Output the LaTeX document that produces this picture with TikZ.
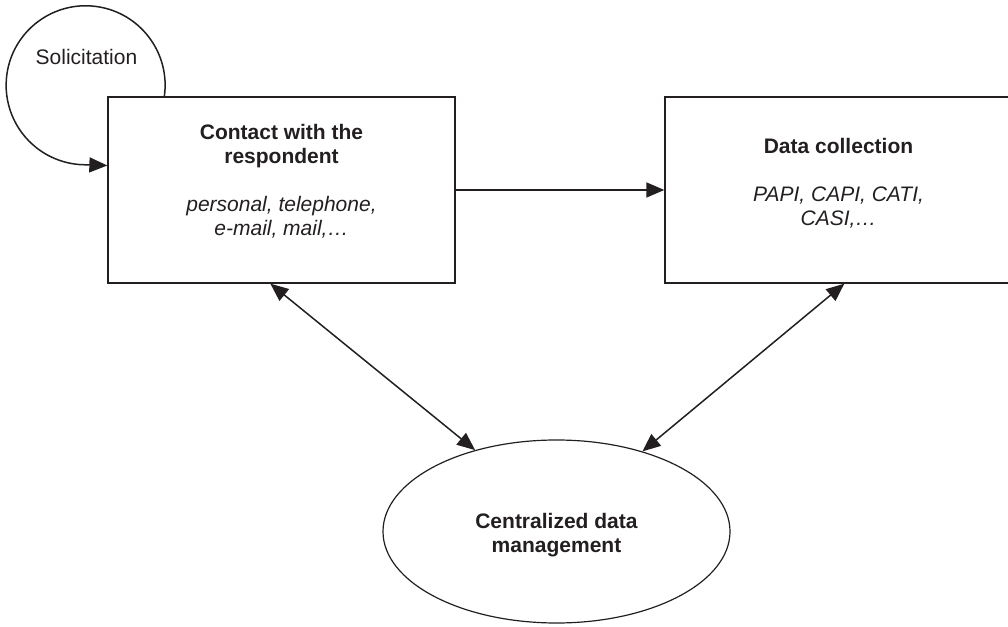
\documentclass[tikz,border=0pt]{standalone}
\usepackage{fontspec}
\setmainfont{Liberation Sans}
\usetikzlibrary{shapes.geometric,arrows.meta}
\definecolor{ink}{HTML}{231F20}
\begin{document}
\begin{tikzpicture}[x=1pt,y=1pt,
  box/.style={draw=ink,line width=1.3pt,minimum width=347pt,minimum height=186pt,inner sep=0pt},
  oval/.style={draw=ink,line width=1.2pt,ellipse,minimum width=347pt,minimum height=183pt,inner sep=0pt},
  txt/.style={text=ink,align=center,inner sep=0pt,font=\fontsize{21}{24}\selectfont},
  conn/.style={draw=ink,line width=1.5pt},
  tip/.style={-{Triangle[length=18pt,width=15pt]}},
  both/.style={{Triangle[length=18pt,width=15pt]}-{Triangle[length=18pt,width=15pt]}}]
\useasboundingbox (0,0) rectangle (1008,626);
\node[box] (contact) at (281.5,436) {};
\node[box] (collect) at (838.5,436) {};
\node[oval] (central) at (556.5,94.5) {};
\node[txt,anchor=north] (contacttxt) at (281.5,502)
  {\textbf{Contact with the}\\\textbf{respondent}\\[24pt]\textit{personal, telephone,}\\\textit{e-mail, mail,\ldots}};
\node[txt,anchor=north] (collecttxt) at (838.5,488)
  {\textbf{Data collection}\\[24pt]\textit{PAPI, CAPI, CATI,}\\\textit{CASI,\ldots}};
\node[txt,anchor=north] (centraltxt) at (556.5,113)
  {\textbf{Centralized data}\\\textbf{management}};
\node[txt,anchor=base] (solic) at (86.5,561) {Solicitation};
\coordinate (loopend) at (86.3,460.5);
\draw[conn,tip] ([xshift=57pt]contact.north west) arc[start angle=-8,end angle=270,radius=79.5] -- (contact.west |- loopend);
\draw[conn,tip] (contact.east) -- (collect.west);
\draw[conn,both] ([xshift=163pt]contact.south west) -- (central.135);
\draw[conn,both] ([xshift=180pt]collect.south west) -- (central.43);
\end{tikzpicture}
\end{document}
